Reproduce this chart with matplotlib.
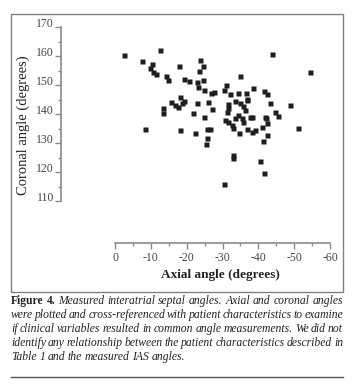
import matplotlib
matplotlib.use('Agg')
import matplotlib.pyplot as plt
import matplotlib.patches as patches
from matplotlib.ticker import MultipleLocator

plt.rcParams['font.family'] = ['Liberation Serif', 'DejaVu Serif']
plt.rcParams['axes.unicode_minus'] = False

# axial / coronal angles (degrees)
axial = [-2.5, -12.6, -7.6, -10.2, -9.8, -10.5, -11.4, -14.2, -14.7, -17.9,
         -23.7, -24.6, -23.5, -19.3, -20.7, -23.0, -23.1, -24.5, -24.9, -26.7,
         -27.6, -18.1, -19.3, -18.6, -16.7, -17.7, -15.6, -13.3, -13.3, -22.8,
         -25.9, -27.0, -21.7, -24.9, -8.4, -18.1, -22.3, -25.6, -26.5, -25.8,
         -25.4, -43.7, -54.4, -34.9, -31.1, -30.4, -32.1, -34.2, -36.6, -38.6,
         -41.6, -42.5, -33.5, -34.9, -35.8, -36.9, -43.3, -48.8, -44.7, -45.6,
         -31.6, -31.3, -36.3, -38.1, -41.9, -30.7, -31.6, -32.6, -33.0, -33.5,
         -34.4, -35.4, -35.8, -37.7, -36.8, -38.1, -39.1, -34.7, -42.0, -42.3,
         -40.9, -42.3, -41.4, -51.2, -32.8, -32.8, -40.5, -41.6, -30.5, -31.6,
         -36.8]
coronal = [160.3, 162.1, 158.4, 157.2, 155.8, 154.6, 153.7, 153.2, 151.7, 156.7,
           158.6, 156.7, 154.9, 152.0, 151.5, 151.1, 149.4, 151.7, 148.3, 147.3,
           147.5, 145.8, 144.5, 143.9, 143.1, 142.5, 144.1, 142.0, 140.2, 143.9,
           144.0, 141.6, 140.2, 138.9, 134.7, 134.5, 133.6, 134.7, 134.7, 131.6,
           129.7, 160.6, 154.4, 153.1, 150.0, 148.3, 146.9, 147.3, 147.1, 149.1,
           148.0, 146.9, 144.6, 143.7, 142.9, 145.1, 143.7, 143.0, 140.8, 139.3,
           142.0, 140.8, 141.4, 139.1, 138.9, 137.9, 137.3, 136.2, 135.1, 138.5,
           139.7, 138.5, 137.3, 139.1, 134.7, 133.9, 134.5, 133.3, 138.5, 136.9,
           135.6, 132.6, 130.7, 135.1, 125.9, 124.9, 123.8, 119.6, 115.8, 143.4,
           144.8]

xticks = [0, -10, -20, -30, -40, -50, -60]
yticks = [110, 120, 130, 140, 150, 160, 170]

caption = [
    [('Figure 4.', 'bold'), ('Measured interatrial septal angles. Axial and coronal angles', 'italic')],
    [('were plotted and cross-referenced with patient characteristics to examine', 'italic')],
    [('if clinical variables resulted in common angle measurements. We did not', 'italic')],
    [('identify any relationship between the patient characteristics described in', 'italic')],
    [('Table 1 and the measured IAS angles.', 'italic')],
]

W, H = 362, 392
fig = plt.figure(figsize=(W / 100, H / 100), dpi=100)

# axes placed so data limits land where the reference has them
ax = fig.add_axes([115 / W, 1 - 201 / H, 215 / W, 174 / H])
ax.plot(axial, coronal, 's', ms=3.6, color='#1e1e1e', mec='none')
ax.set_xlim(0, -60)
ax.set_ylim(110, 170)

for s in ['top', 'right']:
    ax.spines[s].set_visible(False)
ax.spines['left'].set_position(('outward', 39))
ax.spines['bottom'].set_position(('outward', 30))
for s in ['left', 'bottom']:
    ax.spines[s].set_color('#8a8a8a')
    ax.spines[s].set_linewidth(1.2)

ax.set_xticks(xticks)
ax.set_yticks(yticks)
ax.xaxis.set_minor_locator(MultipleLocator(5))
ax.yaxis.set_minor_locator(MultipleLocator(5))
ax.tick_params(which='major', length=4, width=1, color='#8a8a8a', labelsize=8.5, labelcolor='#444444')
ax.tick_params(which='minor', length=2, width=1, color='#8a8a8a')
ax.tick_params(axis='y', pad=1)
ax.tick_params(axis='x', pad=3)
for lab in ax.get_yticklabels():
    lab.set_va('baseline')

fig.text(23 / W, 1 - 125 / H, 'Coronal angle (degrees)', rotation=90,
         ha='center', va='center', fontsize=10.5, color='#222222')
fig.text(220 / W, 1 - 275 / H, 'Axial angle (degrees)', fontweight='bold',
         ha='center', va='center', fontsize=9.5, color='#222222')

# frame round the chart and rule under the caption
fig.patches.append(patches.Rectangle((11 / W, 1 - 292 / H), 332 / W, 278 / H,
                                     transform=fig.transFigure, fill=False,
                                     edgecolor='#808080', linewidth=1))
fig.add_artist(plt.Line2D([11 / W, 343 / W], [1 - 377 / H, 1 - 377 / H],
                          transform=fig.transFigure, color='#555555', linewidth=1))

# justified caption: place word by word
renderer = fig.canvas.get_renderer()
left, right = 11, 343
line_y = [300.7, 315.3, 329.3, 343.3, 357.3]
for i, line in enumerate(caption):
    words = []
    for chunk, style in line:
        for w in chunk.split():
            t = fig.text(0, 1 - line_y[i] / H, w, fontsize=8.4, va='center', ha='left',
                         color='#222222',
                         fontweight='bold' if style == 'bold' else 'normal',
                         fontstyle='normal' if style == 'bold' else 'italic')
            words.append(t)
    widths = [t.get_window_extent(renderer).width for t in words]
    if i < len(caption) - 1:
        gap = (right - left - sum(widths)) / (len(words) - 1)
    else:
        gap = 2.6
    x = left
    for t, wd in zip(words, widths):
        t.set_x(x / W)
        x += wd + gap

fig.savefig('out.png', dpi=100)
